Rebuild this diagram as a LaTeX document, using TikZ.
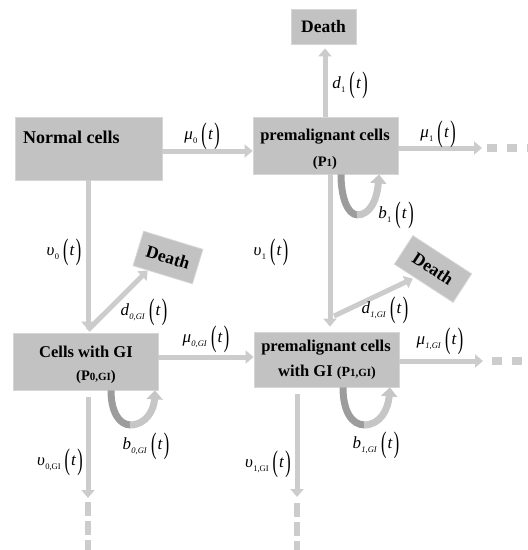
\documentclass[tikz,border=0pt]{standalone}
\usepackage{fontspec}
\usepackage{graphicx}
\setmainfont{Liberation Serif}
\usetikzlibrary{arrows.meta,calc}

\definecolor{boxgray}{HTML}{C2C2C2}
\definecolor{boxedge}{HTML}{D6D6D6}
\definecolor{arrowgray}{HTML}{CCCCCC}
\definecolor{loopdark}{HTML}{9C9C9C}
\definecolor{looplight}{HTML}{C6C6C6}

% rate label: letter, subscript, then (t) with tall parentheses
\newcommand\tallparen[1]{\raisebox{-0.5ex}{\scalebox{0.95}[1.75]{#1}}}
\newcommand\rate[2]{#1\kern0.3pt\raisebox{-0.6ex}{\fontsize{8.5}{9}\selectfont #2}\kern4pt\tallparen{(}\kern1.2pt\textit{t}\kern1.2pt\tallparen{)}}
\newcommand\smallsub[1]{{\fontsize{11}{11}\selectfont #1}}

\tikzset{
  cellbox/.style={fill=boxgray, draw=boxedge, line width=0.8pt, inner sep=0pt},
  boxtext/.style={font=\fontsize{16.5}{19}\selectfont\bfseries, align=center, inner sep=0pt},
  deathbox/.style={cellbox, font=\fontsize{17.5}{20}\selectfont\bfseries},
  flow/.style={draw=arrowgray, line width=5pt, -{Triangle[length=8pt,width=13pt]}},
  dashtail/.style={draw=arrowgray, line width=8pt, dash pattern=on 10pt off 10pt},
  vdashtail/.style={draw=arrowgray, line width=6pt, dash pattern=on 14pt off 5pt},
  rlabel/.style={font=\fontsize{17}{19}\selectfont, inner sep=0pt},
  loopdk/.style={draw=loopdark, line width=7pt},
  looplt/.style={draw=looplight, line width=7pt, -{Triangle[length=9pt,width=16pt]}}
}

\begin{document}
\begin{tikzpicture}[x=1pt,y=-1pt]
\useasboundingbox (0,0) rectangle (528,550);

% cell compartments
\node[cellbox, minimum width=147pt, minimum height=63pt] (normal) at (88.5,148.5) {};
\node[boxtext, font=\fontsize{18}{20}\selectfont\bfseries, anchor=west] (normaltxt) at (23,137) {Normal cells};

\node[cellbox, minimum width=145pt, minimum height=57pt] (p1) at (325.5,145.5) {};
\node[boxtext] (p1a) at (325,137) {premalignant cells};
\node[boxtext, font=\fontsize{14.5}{16}\selectfont\bfseries] (p1b) at (325,163) {(P\smallsub{1})};

\node[cellbox, minimum width=145pt, minimum height=57pt] (cgi) at (85.5,361.5) {};
\node[boxtext] (cgia) at (86,352) {Cells with GI};
\node[boxtext, font=\fontsize{14.5}{16}\selectfont\bfseries] (cgib) at (96,377) {(P\smallsub{0,GI})};

\node[cellbox, minimum width=145pt, minimum height=55pt] (p1gi) at (326.5,359.5) {};
\node[boxtext] (p1gia) at (326,348) {premalignant cells};
\node[boxtext] (p1gib) at (327,372) {with GI {\fontsize{14}{16}\selectfont(P\smallsub{1,GI})}};

% death compartments
\node[deathbox, minimum width=65pt, minimum height=35pt] (deathT) at (323.5,26.5) {Death};
\node[deathbox, minimum width=62pt, minimum height=36pt, rotate=-17] (deathL) at (168,257.5) {Death};
\node[deathbox, minimum width=70pt, minimum height=34pt, rotate=-33] (deathR) at (433,269) {Death};

% free ends of the open transitions
\coordinate (m1end) at (482,148);
\coordinate (m1gend) at (483,361);
\coordinate (v0top) at (88,397);
\coordinate (v0end) at (88,498);
\coordinate (v1top) at (297,394);
\coordinate (v1end) at (297,497);
\coordinate (d1gstart) at (334,316);

% transitions between compartments
\draw[flow] (normal.east |- 0,151) -- (p1.west |- 0,151);
\draw[flow, shorten >=4pt] (p1.north -| 325,0) -- (deathT.south -| 325,0);
\draw[flow] (p1.east |- 0,148) -- (m1end);
\draw[dashtail] (487,148) -- (528,148);

\draw[flow, shorten >=3pt] (normal.south -| 88,0) -- (cgi.north -| 88,0);
\draw[flow, shorten >=5pt] (p1.south -| 330,0) -- (p1gi.north -| 330,0);

\draw[flow] (88,330) -- ($(deathL.south west)!0.5!(deathL.south)$);
\draw[flow, shorten >=2pt] (d1gstart) -- ($(deathR.south west)!0.7!(deathR.south)$);

\draw[flow] (cgi.east |- 0,357) -- (p1gi.west |- 0,357);
\draw[flow] (p1gi.east |- 0,361) -- (m1gend);
\draw[dashtail] (492,361) -- (528,361);

\draw[flow] (v0top) -- (v0end);
\draw[vdashtail] (88,502) -- (88,550);
\draw[flow] (v1top) -- (v1end);
\draw[vdashtail] (297,503) -- (297,550);

% self-renewal loops
\draw[loopdk] (p1.south -| 341,0) .. controls (341,196) and (347,215) .. (358,215);
\draw[looplt] (357,215) .. controls (370,215) and (377,200) .. (p1.south -| 379,0);

\draw[loopdk] (cgi.south -| 111,0) .. controls (111,410) and (118,425) .. (131,425);
\draw[looplt] (130,425) .. controls (146,425) and (154,410) .. (cgi.south -| 155,0);

\draw[loopdk] (p1gi.south -| 343,0) .. controls (343,410) and (351,425) .. (365,425);
\draw[looplt] (364,425) .. controls (380,425) and (388,410) .. (p1gi.south -| 390,0);

% rate labels
\node[rlabel] (lm0) at (202,136) {\rate{\textit{μ}}{0}};
\node[rlabel] (ld1) at (350,85) {\rate{\textit{d}}{1}};
\node[rlabel] (lm1) at (438,134) {\rate{\textit{μ}}{1}};
\node[rlabel] (lb1) at (396,215) {\rate{\textit{b}}{1}};
\node[rlabel] (lv0) at (64,252) {\rate{\textit{υ}}{0}};
\node[rlabel] (lv1) at (271,252) {\rate{\textit{υ}}{1}};
\node[rlabel] (ld0g) at (144,312) {\rate{\textit{d}}{\textit{0,GI}}};
\node[rlabel] (lm0g) at (206,339) {\rate{\textit{μ}}{\textit{0,GI}}};
\node[rlabel] (ld1g) at (385,310) {\rate{\textit{d}}{\textit{1,GI}}};
\node[rlabel] (lm1g) at (440,341) {\rate{\textit{μ}}{\textit{1,GI}}};
\node[rlabel] (lb0g) at (146,446) {\rate{\textit{b}}{\textit{0,GI}}};
\node[rlabel] (lv0g) at (60,462) {\rate{\textit{υ}}{0,GI}};
\node[rlabel] (lb1g) at (376,445) {\rate{\textit{b}}{\textit{1,GI}}};
\node[rlabel] (lv1g) at (268,464) {\rate{\textit{υ}}{1,GI}};
\end{tikzpicture}
\end{document}
